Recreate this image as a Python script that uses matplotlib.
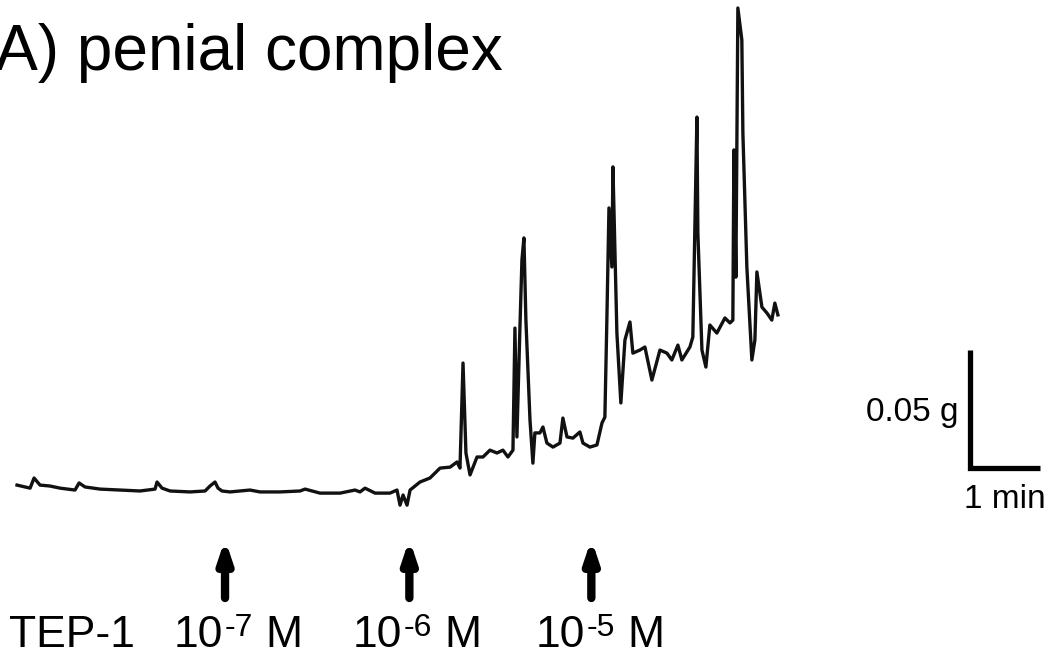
import numpy as np
import matplotlib.pyplot as plt
from matplotlib.transforms import blended_transform_factory

plt.rcParams['font.family'] = ['Liberation Sans', 'DejaVu Sans']

# isometric tension trace (time in s, tension in mg above baseline)
time_s = [1.7, 12.9, 16.3, 21.4, 30.0, 38.6, 51.4, 54.9, 60.0, 72.9, 90.0, 107.1,
          120.0, 121.7, 126.0, 132.9, 150.0, 162.9, 167.1, 171.4, 174.0, 177.4,
          184.3, 201.4, 210.0, 227.1, 244.3, 248.6, 261.4, 278.6, 291.4, 295.7,
          300.0, 308.6, 321.4, 327.4, 330.0, 332.6, 336.0, 338.6, 347.1, 355.7,
          364.3, 372.9, 378.9, 381.4, 384.0, 386.5, 390.0, 396.0, 401.1, 407.1,
          413.1, 418.2, 422.5, 426.8, 428.5, 430.2, 432.8, 434.5, 436.2, 437.9,
          441.4, 443.9, 445.6, 449.9, 452.5, 455.9, 461.1, 467.1, 469.6, 473.1,
          478.2, 484.2, 486.8, 492.8, 498.8, 503.1, 505.6, 507.3, 509.1, 511.6,
          512.5, 514.2, 515.9, 519.3, 522.8, 527.1, 529.6, 535.6, 539.9, 545.9,
          552.8, 558.8, 563.0, 568.2, 571.6, 578.5, 581.0, 584.5, 585.3, 588.8,
          592.2, 595.6, 601.6, 608.5, 612.8, 615.3, 616.2, 617.9, 619.6, 623.0,
          623.9, 627.3, 631.6, 634.2, 635.9, 640.2, 644.5, 648.7, 651.3, 653.9]
tension_mg = [2.1, 0.8, 5.1, 2.1, 1.7, 0.8, 0.0, 3.0, 1.3, 0.4, 0.0, -0.4,
              0.4, 3.4, 0.8, -0.4, -0.8, -0.4, 1.7, 3.4, 0.8, -0.4,
              -0.8, 0.0, -0.8, -0.8, -0.4, 0.4, -1.3, -1.3, 0.0, -0.8,
              0.8, -1.3, -1.3, 0.0, -6.4, -2.1, -6.4, 0.0, 3.4, 5.1,
              9.3, 9.7, 11.9, 9.3, 53.8, 15.7, 6.4, 14.0, 14.0, 16.9,
              15.7, 16.9, 14.0, 16.9, 68.6, 22.5, 69.1, 97.5, 106.8, 72.0,
              29.7, 11.4, 24.2, 24.2, 26.7, 19.9, 18.2, 19.9, 30.5, 22.5,
              22.0, 24.6, 19.9, 18.2, 19.1, 28.4, 30.9, 72.0, 119.5, 94.5,
              136.9, 101.7, 66.5, 36.9, 63.6, 71.2, 58.0, 59.3, 60.6, 46.6,
              59.3, 58.0, 55.1, 61.4, 55.1, 60.6, 64.8, 158.0, 108.9, 59.3,
              52.1, 69.9, 66.5, 72.9, 70.8, 72.0, 144.1, 90.2, 204.2, 190.7,
              151.3, 94.5, 55.1, 63.6, 92.4, 77.5, 75.0, 72.0, 79.2, 74.2]

# drug additions (s) and labels
dose_time_s = [180, 338, 494]
dose_exp = ['-7', '-6', '-5']

W, H = 1049, 660
fig = plt.figure(figsize=(W / 100, H / 100), dpi=100)
ax = fig.add_axes([0, 0, 1, 1])
ax.set_xlim(-12.9, 886.3)
ax.set_ylim(-72.0, 207.6)
ax.axis('off')

ax.plot(time_s, tension_mg, color='#111111', lw=2.4, solid_joinstyle='round')

# scale bar: 1 min x 0.05 g
ax.plot([818.6, 818.6, 878.6], [59.3, 9.3, 9.3], color='black', lw=3.8,
        solid_joinstyle='miter', solid_capstyle='butt')


def px(x, y):
    return x / W, 1 - y / H


fig.text(*px(958, 412), '0.05 g', fontsize=24, ha='right', va='center')
fig.text(*px(1005, 500), '1 min', fontsize=24, ha='center', va='center')

fig.text(*px(503, 70), '(A) penial complex', fontsize=46, ha='right', va='baseline')

# arrows under the trace
trans = blended_transform_factory(ax.transData, ax.transAxes)
for t in dose_time_s:
    ax.annotate('', xy=(t, 1 - 539 / H), xytext=(t, 1 - 598 / H),
                xycoords=trans, textcoords=trans,
                arrowprops=dict(arrowstyle='-|>,head_length=1.2,head_width=0.4',
                                lw=6, color='black', shrinkA=0, shrinkB=0))

base = 647
fig.text(*px(9, base), 'TEP-1', fontsize=32, ha='left', va='baseline')
for x0, e in zip([174, 353, 536], dose_exp):
    fig.text(*px(x0, base), '10', fontsize=32, ha='left', va='baseline')
    fig.text(*px(x0 + 51, base - 11), e, fontsize=23, ha='left', va='baseline')
    fig.text(*px(x0 + 91, base), 'M', fontsize=32, ha='left', va='baseline')

fig.savefig('out.png', dpi=100)
